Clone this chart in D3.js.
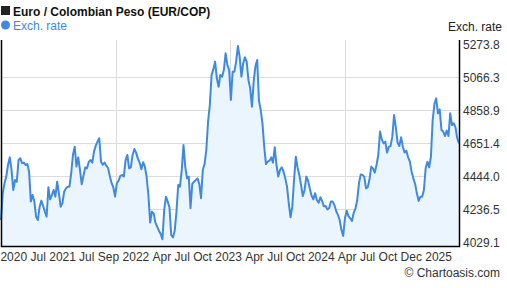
<!DOCTYPE html>
<html>
<head>
<meta charset="utf-8">
<script src="https://cdn.jsdelivr.net/npm/d3@7"></script>
<style>
  body { margin: 0; background: #fff; }
  text { font-family: "Liberation Sans", Arial, sans-serif; }
</style>
</head>
<body>
<svg width="507" height="288"></svg>
<script>

// weekly EUR/COP closes (5 years)
const rates = [
  4169, 4337, 4400, 4442, 4515, 4563, 4484, 4358, 4421, 4410,
  4546, 4557, 4526, 4530, 4515, 4521, 4473, 4285, 4326, 4285,
  4190, 4169, 4253, 4291, 4257, 4222, 4190, 4375, 4299, 4326,
  4358, 4316, 4410, 4337, 4253, 4274, 4347, 4368, 4379, 4379,
  4463, 4578, 4630, 4505, 4563, 4484, 4394, 4448, 4500, 4494,
  4534, 4546, 4530, 4599, 4637, 4662, 4683, 4536, 4517, 4530,
  4511, 4496, 4446, 4402, 4375, 4316, 4400, 4417, 4446, 4452,
  4442, 4546, 4578, 4494, 4500, 4578, 4616, 4593, 4555, 4530,
  4488, 4532, 4505, 4438, 4326, 4153, 4222, 4211, 4153, 4127,
  4102, 4081, 4048, 4232, 4316, 4285, 4249, 4075, 4060, 4102,
  4222, 4389, 4379, 4484, 4641, 4505, 4431, 4442, 4243, 4396,
  4410, 4421, 4431, 4396, 4306, 4484, 4521, 4609, 4787, 4892,
  5081, 5116, 5165, 5060, 5007, 5081, 5070, 5112, 5217, 5144,
  5112, 4924, 5102, 5102, 5165, 5263, 5196, 5070, 5154, 5192,
  5165, 5049, 4997, 4882, 5039, 5137, 5175, 4919, 4861, 4777,
  4630, 4521, 4536, 4542, 4563, 4530, 4626, 4515, 4442, 4484,
  4500, 4473, 4431, 4379, 4274, 4186, 4253, 4421, 4567, 4500,
  4452, 4389, 4320, 4358, 4442, 4417, 4366, 4322, 4299, 4337,
  4295, 4278, 4312, 4289, 4255, 4257, 4236, 4243, 4285, 4285,
  4264, 4226, 4201, 4169, 4106, 4069, 4180, 4228, 4194, 4180,
  4163, 4215, 4241, 4295, 4400, 4456, 4452, 4442, 4368, 4375,
  4425, 4505, 4494, 4467, 4515, 4578, 4725, 4676, 4651, 4662,
  4593, 4630, 4634, 4693, 4829, 4752, 4655, 4634, 4689, 4630,
  4593, 4605, 4563, 4536, 4473, 4431, 4396, 4337, 4289, 4316,
  4316, 4358, 4494, 4536, 4500, 4567, 4798, 4898, 4934, 4840,
  4865, 4735, 4725, 4697, 4731, 4697, 4840, 4766, 4777, 4752,
  4683, 4651
];

const yTicks = [5273.8, 5066.3, 4858.9, 4651.4, 4444.0, 4236.5, 4029.1];
const yGrid = [5066.3, 4858.9, 4651.4, 4444.0, 4236.5];

const xTickLabels = ['2020', 'Jul', '2021', 'Jul', 'Sep', '2022', 'Apr', 'Jul', 'Oct', '2023',
                     'Apr', 'Jul', 'Oct', '2024', 'Apr', 'Jul', 'Oct', 'Dec', '2025'];
const xTickWeeks = [7.0, 20.9, 34.8, 48.6, 61.0, 76.6, 91.4, 103.0, 114.6, 129.4,
                    144.2, 155.8, 167.4, 182.2, 197.0, 208.6, 220.2, 233.5, 249.1];
const xGridWeeks = [65.25, 130.5, 195.75];

const svg = d3.select('svg');

const plotL = 1;
const plotR = 459;
const plotT = 40;
const plotB = 246;

const lineColor = '#3f8ae0';
const textColor = '#333';

//x scale: week index
const xScale = d3.scaleLinear()
    .domain([0, rates.length - 1])
    .range([plotL, plotR]);

//y scale: rate
const yScale = d3.scaleLinear()
    .domain([4029.1, 5273.8])
    .range([242.3, 44.3]);

//grid
const grid = svg.append('g');
grid.selectAll('.hgrid')
    .data(yGrid)
    .enter()
    .append('line')
    .attr('x1', plotL).attr('x2', plotR)
    .attr('y1', d => Math.round(yScale(d)) + 0.5).attr('y2', d => Math.round(yScale(d)) + 0.5)
    .attr('stroke', '#dcdcdc');
grid.selectAll('.vgrid')
    .data(xGridWeeks)
    .enter()
    .append('line')
    .attr('x1', d => Math.round(xScale(d)) + 0.5).attr('x2', d => Math.round(xScale(d)) + 0.5)
    .attr('y1', plotT).attr('y2', plotB)
    .attr('stroke', '#dcdcdc');

//area + line
const area = d3.area()
    .x((d, i) => xScale(i))
    .y0(plotB)
    .y1(d => yScale(d));

const line = d3.line()
    .x((d, i) => xScale(i))
    .y(d => yScale(d));

svg.append('path')
    .datum(rates)
    .attr('d', area)
    .attr('fill', '#ebf5fe');

svg.append('path')
    .datum(rates)
    .attr('d', line)
    .attr('fill', 'none')
    .attr('stroke', lineColor)
    .attr('stroke-width', 2)
    .attr('stroke-linejoin', 'round');

//frame (left, bottom, right)
svg.append('path')
    .attr('d', `M${plotL + 0.5},${plotT} V${plotB + 0.5} H${plotR + 0.5} V${plotT}`)
    .attr('fill', 'none')
    .attr('stroke', '#000')
    .attr('stroke-width', 1.5);

//right axis
const gY = svg.append('g')
    .attr('transform', `translate(${plotR},0)`)
    .call(d3.axisRight(yScale).tickValues(yTicks).tickFormat(d3.format('.1f')).tickSize(0).tickPadding(4));
gY.select('.domain').remove();
gY.selectAll('text')
    .attr('fill', textColor)
    .attr('font-size', 12)
    .attr('font-family', '"Liberation Sans", Arial, sans-serif');

//bottom axis
const gX = svg.append('g')
    .attr('transform', `translate(0,${plotB})`)
    .call(d3.axisBottom(xScale).tickValues(xTickWeeks).tickFormat((d, i) => xTickLabels[i]).tickSize(0).tickPadding(6));
gX.select('.domain').remove();
gX.selectAll('text')
    .attr('fill', textColor)
    .attr('font-size', 12)
    .attr('font-family', '"Liberation Sans", Arial, sans-serif');

//title + legend
svg.append('rect')
    .attr('x', 1).attr('y', 6).attr('width', 9).attr('height', 9)
    .attr('fill', '#222');
svg.append('text')
    .text('Euro / Colombian Peso (EUR/COP)')
    .attr('x', 13).attr('y', 16)
    .attr('font-size', 12).attr('font-weight', 'bold')
    .attr('fill', '#111');

svg.append('circle')
    .attr('cx', 5.5).attr('cy', 25).attr('r', 4.5)
    .attr('fill', lineColor);
svg.append('text')
    .text('Exch. rate')
    .attr('x', 13).attr('y', 29.5)
    .attr('font-size', 12)
    .attr('fill', lineColor);

//axis title and credit
svg.append('text')
    .text('Exch. rate')
    .attr('x', 502).attr('y', 31)
    .attr('text-anchor', 'end')
    .attr('font-size', 12)
    .attr('fill', '#222');

svg.append('text')
    .text('\u00a9 Chartoasis.com')
    .attr('x', 500).attr('y', 277)
    .attr('text-anchor', 'end')
    .attr('font-size', 12)
    .attr('fill', textColor);

</script>
</body>
</html>
